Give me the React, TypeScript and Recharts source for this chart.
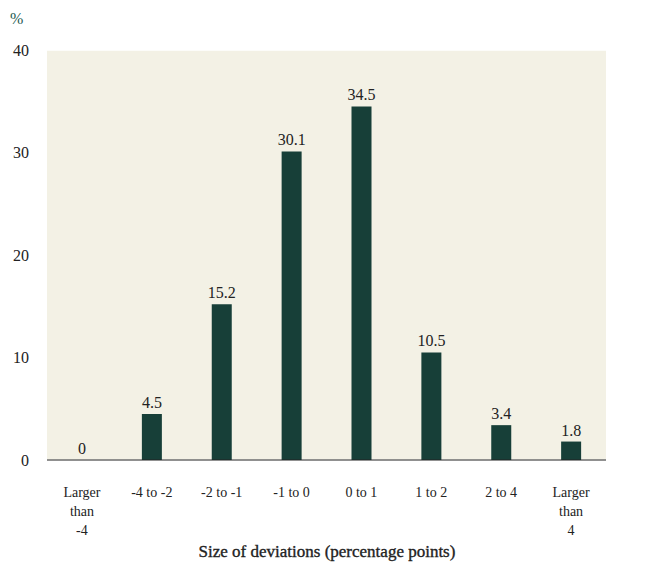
import React from 'react'
import { BarChart, Bar, XAxis, YAxis, CartesianGrid, LabelList, ReferenceDot } from 'recharts'

const categories = ['Larger than -4', '-4 to -2', '-2 to -1', '-1 to 0', '0 to 1', '1 to 2', '2 to 4', 'Larger than 4']
const tickLines: string[][] = [
  ['Larger', 'than', '-4'],
  ['-4 to -2'],
  ['-2 to -1'],
  ['-1 to 0'],
  ['0 to 1'],
  ['1 to 2'],
  ['2 to 4'],
  ['Larger', 'than', '4'],
]
const shares = [0, 4.5, 15.2, 30.1, 34.5, 10.5, 3.4, 1.8]
const yTicks = [0, 10, 20, 30, 40]

if (typeof document !== 'undefined') document.body.style.margin = '0'

const data = categories.map((c, i) => ({ cat: c, value: shares[i] }))

const css = `
  #root, #root div, #root svg, #root text, #root tspan {
    font-family: 'Liberation Serif', 'Times New Roman', serif !important;
  }
`

// eslint-disable-next-line @typescript-eslint/no-explicit-any
const CatTick = ({ x, y, index }: any) => {
  const lines = tickLines[index] ?? []
  return (
    <text x={x} y={y + 29} textAnchor="middle" fontFamily="Liberation Serif" fontSize={14} fill="#222">
      {lines.map((l, i) => (
        <tspan key={i} x={x} dy={i === 0 ? 0 : 19}>{l}</tspan>
      ))}
    </text>
  )
}

export default function App() {
  return (
    <div style={{ position: 'relative', width: 650, height: 564 }}>
      <style>{css}</style>
      <BarChart
        width={650}
        height={564}
        data={data}
        margin={{ top: 50, right: 43, left: 0, bottom: 0 }}
        barCategoryGap={25}
      >
        <CartesianGrid fill="#f3f1e5" stroke="#ffffff" strokeWidth={1.5} vertical={false} />
        <XAxis
          dataKey="cat"
          interval={0}
          tick={<CatTick />}
          tickLine={false}
          axisLine={{ stroke: '#222', strokeWidth: 1.2 }}
          height={104}
        />
        <YAxis
          yAxisId="left"
          domain={[0, 40]}
          ticks={yTicks}
          width={47}
          axisLine={false}
          tickLine={false}
          tickMargin={12}
          tick={{ fontFamily: 'Liberation Serif', fontSize: 16, fill: '#222' }}
        />
        <YAxis
          yAxisId="right"
          orientation="right"
          domain={[0, 40]}
          ticks={yTicks}
          width={1}
          axisLine={false}
          tickLine={false}
          tickMargin={20}
          tick={{ fontFamily: 'Liberation Serif', fontSize: 16, fill: '#222', textAnchor: 'start' }}
        />
        <Bar yAxisId="left" dataKey="value" fill="#173f38" isAnimationActive={false}>
          <LabelList dataKey="value" position="top" offset={6} fontFamily="Liberation Serif" fontSize={16} fill="#222" />
        </Bar>
        <ReferenceDot
          yAxisId="left"
          x={categories[0]}
          y={shares[0]}
          r={0}
          stroke="none"
          label={{ value: String(shares[0]), position: 'top', offset: 6, fontFamily: 'Liberation Serif', fontSize: 16, fill: '#222' }}
        />
      </BarChart>
      <div style={{ position: 'absolute', left: 10, top: 10, fontFamily: "'Liberation Serif'", fontSize: 16, color: '#1e5a50' }}>%</div>
      <div style={{ position: 'absolute', left: 0, width: 654, top: 542, textAlign: 'center', fontFamily: "'Liberation Serif'", fontSize: 17, color: '#222', WebkitTextStroke: '0.35px #222' }}>
        Size of deviations (percentage points)
      </div>
    </div>
  )
}
